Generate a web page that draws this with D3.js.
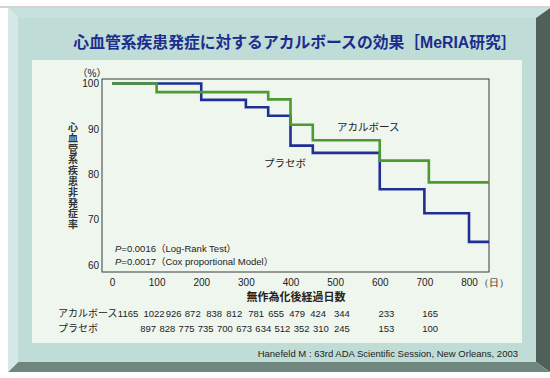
<!DOCTYPE html>
<html>
<head>
<meta charset="utf-8">
<script src="https://cdn.jsdelivr.net/npm/d3@7"></script>
<style>
  html, body { margin: 0; padding: 0; background: #fff; }
  svg { display: block; font-family: "Liberation Sans", Arial, "Noto Sans CJK JP", sans-serif; }
</style>
</head>
<body>
<svg id="chart"></svg>
<script>
  // data
  const acarboseDays = [0, 100, 350, 400, 450, 600, 710, 845]
  const acarboseValues = [100, 98.1, 96.5, 90.9, 87.5, 83.0, 78.2, 78.2]
  const placeboDays = [0, 200, 300, 350, 400, 450, 600, 700, 800, 845]
  const placeboValues = [100, 96.4, 94.75, 92.9, 86.3, 84.7, 76.7, 71.4, 65.1, 65.1]

  const xTicks = [0, 100, 200, 300, 400, 500, 600, 700, 800]
  const yTicks = [60, 70, 80, 90, 100]

  // numbers at risk (columns are where the figures stand under the day axis)
  const acarboseRiskCols = [36, 94, 138, 181, 229, 274, 323, 368, 415, 462, 515, 615, 713]
  const acarboseAtRisk = [1165, 1022, 926, 872, 838, 812, 781, 655, 479, 424, 344, 233, 165]
  const placeboRiskCols = [81, 124, 167, 210, 253, 296, 339, 382, 425, 468, 515, 615, 713]
  const placeboAtRisk = [897, 828, 775, 735, 700, 673, 634, 512, 352, 310, 245, 153, 100]

  const title = '心血管系疾患発症に対するアカルボースの効果［MeRIA研究］'
  const yTitle = '心血管系疾患非発症率'
  const xTitle = '無作為化後経過日数'
  const source = 'Hanefeld M : 63rd ADA Scientific Session, New Orleans, 2003'

  const W = 550
  const H = 378

  const svg = d3.select('#chart').attr('width', W).attr('height', H)

  // bevelled panel
  const ox0 = 8, oy0 = 8, ox1 = 550, oy1 = 372
  const ix0 = 18, iy0 = 18, ix1 = 536, iy1 = 362
  svg.append('rect').attr('x', 0).attr('y', 6).attr('width', W).attr('height', 2).attr('fill', '#d4d4d4')
  const bevels = [
    { pts: [[ox0, oy0], [ox1, oy0], [ix1, iy0], [ix0, iy0]], fill: '#c7e2de' },
    { pts: [[ox1, oy0], [ox1, oy1], [ix1, iy1], [ix1, iy0]], fill: '#4f605b' },
    { pts: [[ox0, oy1], [ox1, oy1], [ix1, iy1], [ix0, iy1]], fill: '#6f877f' },
    { pts: [[ox0, oy0], [ix0, iy0], [ix0, iy1], [ox0, oy1]], fill: '#d6e8e6' }
  ]
  svg.selectAll('polygon.bevel').data(bevels).enter().append('polygon')
    .attr('class', 'bevel')
    .attr('points', d => d.pts.map(p => p.join(',')).join(' '))
    .attr('fill', d => d.fill)
  svg.append('rect').attr('x', ix0).attr('y', iy0)
    .attr('width', ix1 - ix0).attr('height', iy1 - iy0).attr('fill', '#bfdcd6')

  // title
  svg.append('text')
    .attr('x', 295).attr('y', 48)
    .attr('text-anchor', 'middle')
    .attr('font-size', 15.8)
    .attr('font-weight', 'bold')
    .attr('fill', '#1c2c8c')
    .text(title)

  // inner sheet
  svg.append('rect').attr('x', 32).attr('y', 60).attr('width', 490).attr('height', 283).attr('fill', '#eff6ee')

  // plot frame
  const plot = { left: 102, top: 79, right: 489, bottom: 272 }
  svg.append('rect')
    .attr('x', plot.left).attr('y', plot.top)
    .attr('width', plot.right - plot.left).attr('height', plot.bottom - plot.top)
    .attr('fill', 'none').attr('stroke', '#3a3a3a').attr('stroke-width', 1)

  const x = d3.scaleLinear().domain([0, 800]).range([112, 469])
  const y = d3.scaleLinear().domain([60, 100]).range([265, 83.5])

  // axes
  const yAxis = svg.append('g')
    .attr('transform', `translate(${plot.left - 3},0)`)
    .call(d3.axisLeft(y).tickValues(yTicks).tickSize(0).tickPadding(0))
  yAxis.select('.domain').remove()
  yAxis.selectAll('text').attr('font-size', 10).attr('fill', '#222').attr('font-family', null)

  const xAxis = svg.append('g')
    .attr('transform', `translate(0,${plot.bottom + 7})`)
    .call(d3.axisBottom(x).tickValues(xTicks).tickSize(0).tickPadding(0))
  xAxis.select('.domain').remove()
  xAxis.selectAll('text').attr('font-size', 10).attr('fill', '#222').attr('font-family', null)
  xAxis.selectAll('.tick').filter(d => d === 800).append('text')
    .attr('x', 9).attr('dy', '0.71em')
    .attr('font-size', 10).attr('fill', '#222').attr('text-anchor', 'start')
    .text('（日）')

  svg.append('text')
    .attr('x', 92).attr('y', 77)
    .attr('text-anchor', 'middle')
    .attr('font-size', 10).attr('fill', '#222')
    .text('（%）')

  // y title (vertical, one char per line)
  svg.append('g').selectAll('text')
    .data(yTitle.split(''))
    .enter().append('text')
    .attr('x', 73)
    .attr('y', (d, i) => 131 + i * 10.8)
    .attr('text-anchor', 'middle')
    .attr('font-size', 10).attr('font-weight', 'bold').attr('fill', '#333')
    .text(d => d)

  svg.append('text')
    .attr('x', 296).attr('y', 301)
    .attr('text-anchor', 'middle')
    .attr('font-size', 11).attr('font-weight', 'bold').attr('fill', '#222')
    .text(xTitle)

  // curves
  const line = d3.line().x(d => x(d[0])).y(d => y(d[1])).curve(d3.curveStepAfter)
  const series = [
    { name: 'プラセボ', days: placeboDays, values: placeboValues, color: '#1f2f95' },
    { name: 'アカルボース', days: acarboseDays, values: acarboseValues, color: '#4c9a30' }
  ]
  svg.selectAll('path.curve').data(series).enter().append('path')
    .attr('class', 'curve')
    .attr('d', s => line(s.days.map((d, i) => [d, s.values[i]])))
    .attr('fill', 'none')
    .attr('stroke', s => s.color)
    .attr('stroke-width', 2.6)

  svg.append('text').attr('x', 337).attr('y', 131)
    .attr('font-size', 10.5).attr('fill', '#222').text('アカルボース')
  svg.append('text').attr('x', 264).attr('y', 167)
    .attr('font-size', 10.5).attr('fill', '#222').text('プラセボ')

  // p values
  const pLines = [['0.0016', '（Log-Rank Test）'], ['0.0017', '（Cox proportional Model）']]
  pLines.forEach((p, i) => {
    const t = svg.append('text').attr('x', 115).attr('y', 252 + i * 13)
      .attr('font-size', 9.5).attr('fill', '#222')
    t.append('tspan').attr('font-style', 'italic').text('P')
    t.append('tspan').text('=' + p[0] + p[1])
  })

  // numbers at risk
  const riskRows = [
    { label: 'アカルボース', values: acarboseAtRisk, cols: acarboseRiskCols, y: 317 },
    { label: 'プラセボ', values: placeboAtRisk, cols: placeboRiskCols, y: 332 }
  ]
  riskRows.forEach(row => {
    const g = svg.append('g').attr('fill', '#222')
    g.append('text').attr('x', 58).attr('y', row.y).attr('font-size', 10).text(row.label)
    g.selectAll('text.n').data(row.values).enter().append('text')
      .attr('class', 'n')
      .attr('x', (d, i) => x(row.cols[i]))
      .attr('y', row.y)
      .attr('text-anchor', 'middle')
      .attr('font-size', 9.5)
      .text(d => d)
  })

  svg.append('text')
    .attr('x', 518).attr('y', 357)
    .attr('text-anchor', 'end')
    .attr('font-size', 9.5).attr('fill', '#222')
    .text(source)
</script>
</body>
</html>
